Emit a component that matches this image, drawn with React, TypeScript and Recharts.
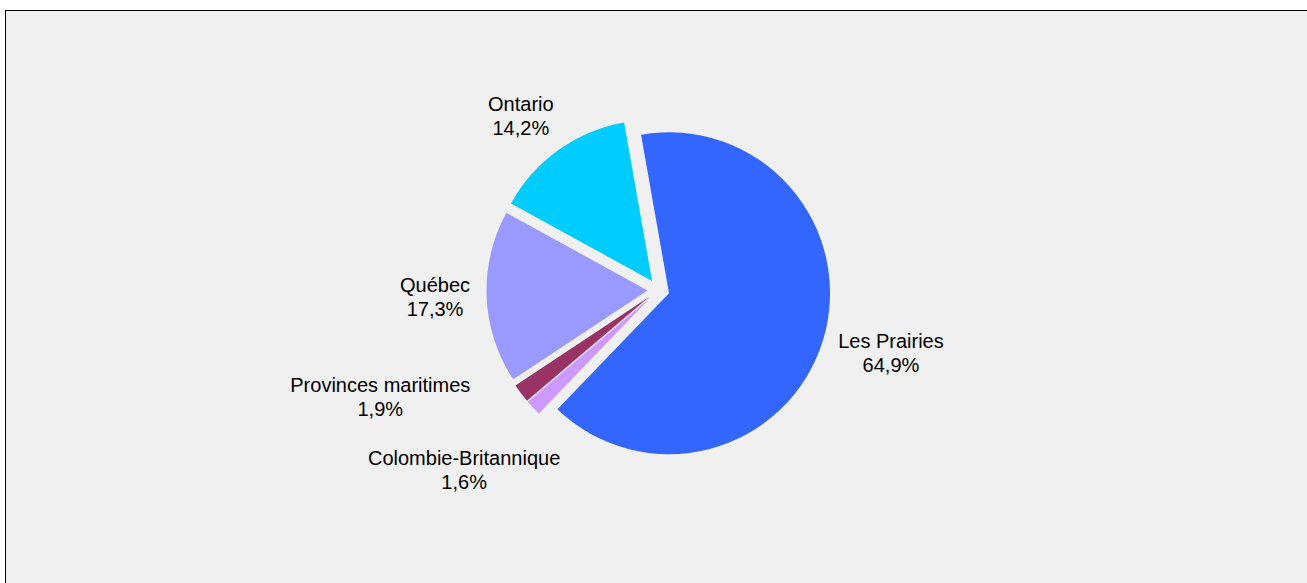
import React from 'react';
import { PieChart, Pie, Sector } from 'recharts';

const regions = ['Les Prairies', 'Colombie-Britannique', 'Provinces maritimes', 'Québec', 'Ontario'];
const shares = [64.9, 1.6, 1.9, 17.3, 14.2];
const colors = ['#3366ff', '#cc99ff', '#993366', '#9999ff', '#00ccff'];

const data = regions.map((name, i) => ({ name, value: shares[i] }));

const EXPLODE = 11; // every slice pulled out from the centre
const RADIUS = 161;
const FONT = 20;
const LINE = 24;
const LABEL_GAP = 27;

// the original shuffled some labels around to keep them apart
const nudge: Record<string, [number, number]> = {
  'Les Prairies': [-2.6, -8.7],
  Ontario: [-14.5, -1.7],
  'Québec': [-8, -2],
  'Provinces maritimes': [-102.4, -24.9],
  'Colombie-Britannique': [-37, 32.2],
};

const fmt = (v: number) => `${v.toFixed(1).replace('.', ',')}%`;

// draws the exploded slice and its label together
const renderSlice = (props: any) => {
  const { cx, cy, midAngle, innerRadius, outerRadius, startAngle, endAngle, index } = props;
  const name: string = props.payload?.name ?? props.name;
  const value: number = props.payload?.value ?? props.value;
  const rad = (-midAngle * Math.PI) / 180;
  const ux = Math.cos(rad);
  const uy = Math.sin(rad);

  const pct = fmt(value);
  const hw = (Math.max(name.length, pct.length) * FONT * 0.46) / 2;
  const hh = (LINE + FONT * 0.72) / 2;
  const t = Math.min(hw / Math.max(Math.abs(ux), 1e-6), hh / Math.max(Math.abs(uy), 1e-6));
  const dist = outerRadius + LABEL_GAP + t;
  const [nx, ny] = nudge[name] ?? [0, 0];
  const lx = cx + dist * ux + nx;
  const ly = cy + dist * uy + ny;
  const b1 = ly - hh + FONT * 0.72;

  return (
    <g key={`slice-${index}`}>
      <Sector
        cx={cx + EXPLODE * ux}
        cy={cy + EXPLODE * uy}
        innerRadius={innerRadius}
        outerRadius={outerRadius}
        startAngle={startAngle}
        endAngle={endAngle}
        fill={colors[index]}
        stroke="none"
      />
      <text
        x={lx}
        y={b1}
        textAnchor="middle"
        fill="#000"
        fontSize={FONT}
        fontFamily="'Liberation Sans', Arial, sans-serif"
      >
        <tspan x={lx}>{name}</tspan>
        <tspan x={lx} dy={LINE}>{pct}</tspan>
      </text>
    </g>
  );
};

export default function App() {
  return (
    <div
      style={{
        position: 'absolute',
        left: 5,
        top: 10,
        width: 1302,
        height: 573,
        boxSizing: 'border-box',
        background: '#f0f0f0',
        borderTop: '1px solid #000',
        borderLeft: '1px solid #000',
      }}
    >
      <PieChart width={1301} height={572} margin={{ top: 0, right: 0, bottom: 0, left: 0 }}>
        <Pie
          data={data}
          dataKey="value"
          nameKey="name"
          cx={652.5}
          cy={279}
          innerRadius={0}
          outerRadius={RADIUS}
          startAngle={100}
          endAngle={-260}
          fill="transparent"
          stroke="none"
          label={renderSlice}
          labelLine={false}
          isAnimationActive={false}
        />
      </PieChart>
    </div>
  );
}
